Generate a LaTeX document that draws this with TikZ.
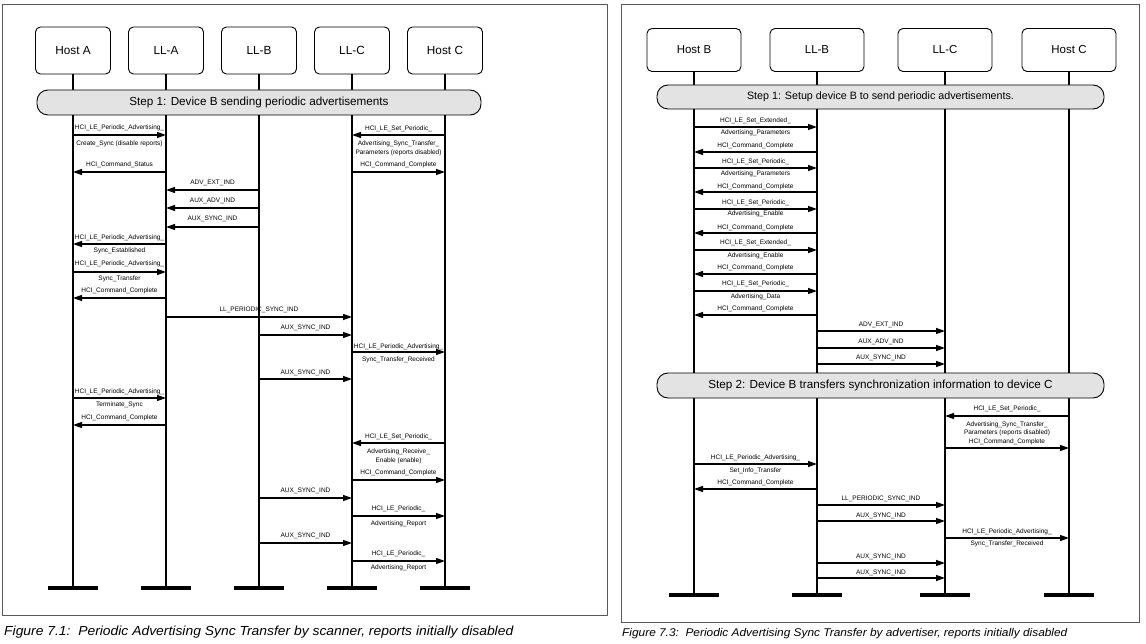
\documentclass[tikz,border=0pt]{standalone}
\usepackage{fontspec}
\setmainfont{Liberation Sans}
\usetikzlibrary{arrows.meta,calc}
\newcounter{lblc}
\tikzset{
  frame/.style={draw=black!65, line width=0.9pt},
  actorL/.style={draw, rounded corners=5pt, line width=0.9pt, fill=white, minimum width=75pt, minimum height=47pt, inner sep=0pt, font=\fontsize{11.8}{13}\selectfont},
  actorR/.style={draw, rounded corners=5pt, line width=0.9pt, fill=white, minimum width=94pt, minimum height=43pt, inner sep=0pt, font=\fontsize{11.5}{13}\selectfont},
  life/.style={line width=1.4pt},
  endbar/.style={line width=3.8pt},
  banner/.style={draw, line width=0.9pt, fill=black!11, rounded corners=11pt, inner sep=0pt, font=\fontsize{11.7}{13}\selectfont},
  msg/.style={line width=1.3pt, -{Triangle[length=9pt,width=6pt]}},
  lbl/.style={inner sep=0pt, font=\fontsize{6.5}{7}\selectfont},
  caption/.style={anchor=west, inner sep=0pt, font=\itshape},
}
% from, to, arrow y, label y, text
\newcommand\msgx[5]{%
  \draw[msg] (#1 |- 0,#3) -- (#2 |- 0,#3);
  \stepcounter{lblc}%
  \node[lbl] (m\arabic{lblc}) at ($(#1 |- 0,#4)!.5!(#2 |- 0,#4)$) {#5};
}
% from, to, y, text
\newcommand\subl[4]{%
  \stepcounter{lblc}%
  \node[lbl] (m\arabic{lblc}) at ($(#1 |- 0,#3)!.5!(#2 |- 0,#3)$) {#4};
}
\begin{document}
\begin{tikzpicture}[x=1pt,y=-1pt]
\useasboundingbox (0,0) rectangle (1146,644);
\draw[frame] (2,4) rectangle (607,615);
\draw[frame] (621,4) rectangle (1139,622);

% ---------- left figure ----------
\node[actorL] (HA) at (73,50.5) {Host A};
\node[actorL] (LA) at (166,50.5) {LL-A};
\node[actorL] (LB) at (259,50.5) {LL-B};
\node[actorL] (LC) at (352,50.5) {LL-C};
\node[actorL] (HC) at (445,50.5) {Host C};
\foreach \n in {HA,LA,LB,LC,HC}{
  \draw[life] (\n.south) -- (\n |- 0,588) coordinate (\n-e);
  \draw[endbar] ($(\n-e)+(-25,0)$) -- ($(\n-e)+(25,0)$);
}
\node[banner, minimum width=444pt, minimum height=25pt] (S1L) at (259,102.5) {Step 1: Device B sending periodic advertisements};

\msgx{HA}{LA}{135}{128}{HCI\_LE\_Periodic\_Advertising\_}
\subl{HA}{LA}{144}{Create\_Sync (disable reports)}
\msgx{HC}{LC}{135}{129}{HCI\_LE\_Set\_Periodic\_}
\subl{LC}{HC}{144}{Advertising\_Sync\_Transfer\_}
\subl{LC}{HC}{153}{Parameters (reports disabled)}
\msgx{LA}{HA}{172}{165}{HCI\_Command\_Status}
\msgx{LC}{HC}{172}{165}{HCI\_Command\_Complete}
\msgx{LB}{LA}{190}{183}{ADV\_EXT\_IND}
\msgx{LB}{LA}{208}{201}{AUX\_ADV\_IND}
\msgx{LB}{LA}{227}{219}{AUX\_SYNC\_IND}
\msgx{LA}{HA}{244}{238}{HCI\_LE\_Periodic\_Advertising\_}
\subl{HA}{LA}{251}{Sync\_Established}
\msgx{HA}{LA}{272}{264}{HCI\_LE\_Periodic\_Advertising\_}
\subl{HA}{LA}{279}{Sync\_Transfer}
\msgx{LA}{HA}{298}{291}{HCI\_Command\_Complete}
\msgx{LA}{LC}{317}{310}{LL\_PERIODIC\_SYNC\_IND}
\msgx{LB}{LC}{335}{328}{AUX\_SYNC\_IND}
\msgx{LC}{HC}{352}{347}{HCI\_LE\_Periodic\_Advertising\_}
\subl{LC}{HC}{360}{Sync\_Transfer\_Received}
\msgx{LB}{LC}{379}{373}{AUX\_SYNC\_IND}
\msgx{HA}{LA}{398}{392}{HCI\_LE\_Periodic\_Advertising\_}
\subl{HA}{LA}{405}{Terminate\_Sync}
\msgx{LA}{HA}{425}{418}{HCI\_Command\_Complete}
\msgx{HC}{LC}{443}{437}{HCI\_LE\_Set\_Periodic\_}
\subl{LC}{HC}{452}{Advertising\_Receive\_}
\subl{LC}{HC}{461}{Enable (enable)}
\msgx{LC}{HC}{480}{473}{HCI\_Command\_Complete}
\msgx{LB}{LC}{498}{491}{AUX\_SYNC\_IND}
\msgx{LC}{HC}{516}{509}{HCI\_LE\_Periodic\_}
\subl{LC}{HC}{524}{Advertising\_Report}
\msgx{LB}{LC}{543}{536}{AUX\_SYNC\_IND}
\msgx{LC}{HC}{561}{554}{HCI\_LE\_Periodic\_}
\subl{LC}{HC}{568}{Advertising\_Report}

\node[caption, font=\itshape\fontsize{13.1}{15}\selectfont] (cap1) at (4,632) {\scalebox{1.06}[1]{Figure 7.1:\ \ Periodic Advertising Sync Transfer by scanner, reports initially disabled}};

% ---------- right figure ----------
\node[actorR] (HB) at (694,50) {Host B};
\node[actorR] (RB) at (817,50) {LL-B};
\node[actorR] (RC) at (945,50) {LL-C};
\node[actorR] (RH) at (1069,50) {Host C};
\foreach \n in {HB,RB,RC,RH}{
  \draw[life] (\n.south) -- (\n |- 0,595) coordinate (\n-e);
  \draw[endbar] ($(\n-e)+(-25,0)$) -- ($(\n-e)+(25,0)$);
}
\node[banner, minimum width=447pt, minimum height=24pt, font=\fontsize{10.7}{12}\selectfont] (S1R) at (880.5,97) {Step 1: Setup device B to send periodic advertisements.};
\node[banner, minimum width=447pt, minimum height=25pt] (S2R) at (880.5,385.5) {Step 2: Device B transfers synchronization information to device C};

\msgx{HB}{RB}{127}{121}{HCI\_LE\_Set\_Extended\_}
\subl{HB}{RB}{133}{Advertising\_Parameters}
\msgx{RB}{HB}{152}{146}{HCI\_Command\_Complete}
\msgx{HB}{RB}{168}{162}{HCI\_LE\_Set\_Periodic\_}
\subl{HB}{RB}{174}{Advertising\_Parameters}
\msgx{RB}{HB}{192}{187}{HCI\_Command\_Complete}
\msgx{HB}{RB}{209}{203}{HCI\_LE\_Set\_Periodic\_}
\subl{HB}{RB}{214}{Advertising\_Enable}
\msgx{RB}{HB}{233}{228}{HCI\_Command\_Complete}
\msgx{HB}{RB}{250}{243}{HCI\_LE\_Set\_Extended\_}
\subl{HB}{RB}{256}{Advertising\_Enable}
\msgx{RB}{HB}{274}{268}{HCI\_Command\_Complete}
\msgx{HB}{RB}{291}{284}{HCI\_LE\_Set\_Periodic\_}
\subl{HB}{RB}{297}{Advertising\_Data}
\msgx{RB}{HB}{315}{309}{HCI\_Command\_Complete}
\msgx{RB}{RC}{331}{325}{ADV\_EXT\_IND}
\msgx{RB}{RC}{348}{342}{AUX\_ADV\_IND}
\msgx{RB}{RC}{364}{358}{AUX\_SYNC\_IND}
\msgx{RH}{RC}{416}{409}{HCI\_LE\_Set\_Periodic\_}
\subl{RC}{RH}{425}{Advertising\_Sync\_Transfer\_}
\subl{RC}{RH}{433}{Parameters (reports disabled)}
\msgx{RC}{RH}{448}{442}{HCI\_Command\_Complete}
\msgx{HB}{RB}{464}{458}{HCI\_LE\_Periodic\_Advertising\_}
\subl{HB}{RB}{471}{Set\_Info\_Transfer}
\msgx{RB}{HB}{489}{483}{HCI\_Command\_Complete}
\msgx{RB}{RC}{505}{499}{LL\_PERIODIC\_SYNC\_IND}
\msgx{RB}{RC}{521}{516}{AUX\_SYNC\_IND}
\msgx{RC}{RH}{538}{532}{HCI\_LE\_Periodic\_Advertising\_}
\subl{RC}{RH}{544}{Sync\_Transfer\_Received}
\msgx{RB}{RC}{563}{557}{AUX\_SYNC\_IND}
\msgx{RB}{RC}{578}{573}{AUX\_SYNC\_IND}

\node[caption, font=\itshape\fontsize{11.2}{13}\selectfont] (cap2) at (622,634) {\scalebox{1.06}[1]{Figure 7.3:\ \ Periodic Advertising Sync Transfer by advertiser, reports initially disabled}};
\end{tikzpicture}
\end{document}
